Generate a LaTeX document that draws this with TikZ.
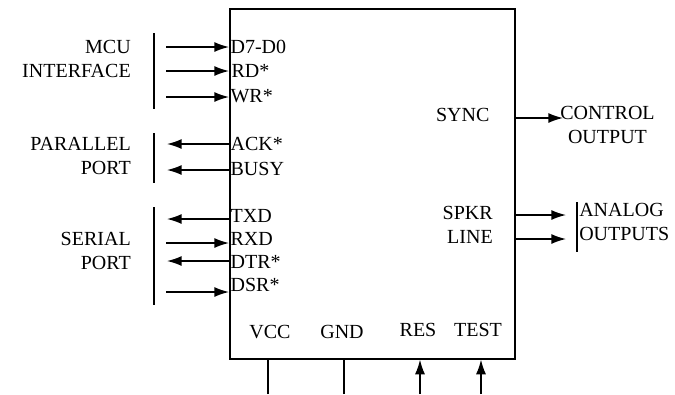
\documentclass[tikz,border=0pt]{standalone}
\usepackage{fontspec}
\setmainfont{Liberation Serif}
\usetikzlibrary{arrows.meta, positioning}

\begin{document}
\begin{tikzpicture}[x=0.75pt, y=-0.75pt]
    \tikzstyle{chip} = [rectangle, draw, line width=1.2pt, minimum width=213.75pt, minimum height=262.5pt, anchor=north west, inner sep=0pt]
    \tikzstyle{pin} = [inner sep=1pt, text height=10pt, text depth=0pt, font=\fontsize{15}{18}\selectfont]
    \tikzstyle{group} = [inner sep=0pt, align=right, font=\fontsize{15}{18}\selectfont]
    \tikzstyle{line} = [draw, -{Latex[length=11pt,width=7.5pt]}, line width=1.1pt]
    \tikzstyle{bar} = [draw, line width=1.1pt]

    \useasboundingbox (0,0) rectangle (675,394);

    \node [chip] (chip) at (229,8) {};

    % pins on the left side
    \node [pin, anchor=west] (d7) at (229,46.5) {D7-D0};
    \node [pin, anchor=west] (rd) at (230,71) {RD*};
    \node [pin, anchor=west] (wr) at (229,96) {WR*};
    \node [pin, anchor=west] (ack) at (229,143.5) {ACK*};
    \node [pin, anchor=west] (busy) at (229,168.5) {BUSY};
    \node [pin, anchor=west] (txd) at (229,215.5) {TXD};
    \node [pin, anchor=west] (rxd) at (229,238.5) {RXD};
    \node [pin, anchor=west] (dtr) at (229,261.5) {DTR*};
    \node [pin, anchor=west] (dsr) at (229,285) {DSR*};

    % pins on the bottom and right
    \node [pin, anchor=center] (vcc) at (270,332) {VCC};
    \node [pin, anchor=center] (gnd) at (342,332) {GND};
    \node [pin, anchor=center] (res) at (418,330) {RES};
    \node [pin, anchor=center] (test) at (478,330) {TEST};
    \node [pin, anchor=east] (sync) at (491,115) {SYNC};
    \node [group, anchor=east] (spkr) at (493,225) {SPKR\\LINE};

    % group labels
    \node [group, anchor=east] (mcu) at (131,58.5) {MCU\\INTERFACE};
    \node [group, anchor=east] (par) at (131,156) {PARALLEL\\PORT};
    \node [group, anchor=east] (ser) at (131,251) {SERIAL\\PORT};
    \node [group, align=center, anchor=west] (ctrl) at (560,125) {CONTROL\\OUTPUT};
    \node [group, align=left, anchor=west] (analog) at (579,222) {ANALOG\\OUTPUTS};

    % free ends of the connectors
    \coordinate (d7in) at (166,47);
    \coordinate (rdin) at (166,71);
    \coordinate (wrin) at (166,97);
    \coordinate (ackout) at (167,144);
    \coordinate (busyout) at (167,170);
    \coordinate (txdout) at (167,219);
    \coordinate (rxdin) at (166,243);
    \coordinate (dtrout) at (167,261);
    \coordinate (dsrin) at (166,292);
    \coordinate (syncout) at (563,118);
    \coordinate (spkrout) at (566,215);
    \coordinate (lineout) at (566,239);
    \coordinate (vccpin) at (268,394);
    \coordinate (gndpin) at (344,394);
    \coordinate (respin) at (420,394);
    \coordinate (testpin) at (481,394);

    \path [line] (d7in) -- (d7in -| chip.west);
    \path [line] (rdin) -- (rdin -| chip.west);
    \path [line] (wrin) -- (wrin -| chip.west);
    \path [line] (ackout -| chip.west) -- (ackout);
    \path [line] (busyout -| chip.west) -- (busyout);
    \path [line] (txdout -| chip.west) -- (txdout);
    \path [line] (rxdin) -- (rxdin -| chip.west);
    \path [line] (dtrout -| chip.west) -- (dtrout);
    \path [line] (dsrin) -- (dsrin -| chip.west);
    \path [line] (syncout -| chip.east) -- (syncout);
    \path [line] (spkrout -| chip.east) -- (spkrout);
    \path [line] (lineout -| chip.east) -- (lineout);
    \path [bar] (vccpin) -- (vccpin |- chip.south);
    \path [bar] (gndpin) -- (gndpin |- chip.south);
    \path [line] (respin) -- (respin |- chip.south);
    \path [line] (testpin) -- (testpin |- chip.south);

    % brackets
    \path [bar] (154,33) -- (154,109);
    \path [bar] (154,133) -- (154,183);
    \path [bar] (154,207) -- (154,305);
    \path [bar] (577,202) -- (577,252);
\end{tikzpicture}
\end{document}
